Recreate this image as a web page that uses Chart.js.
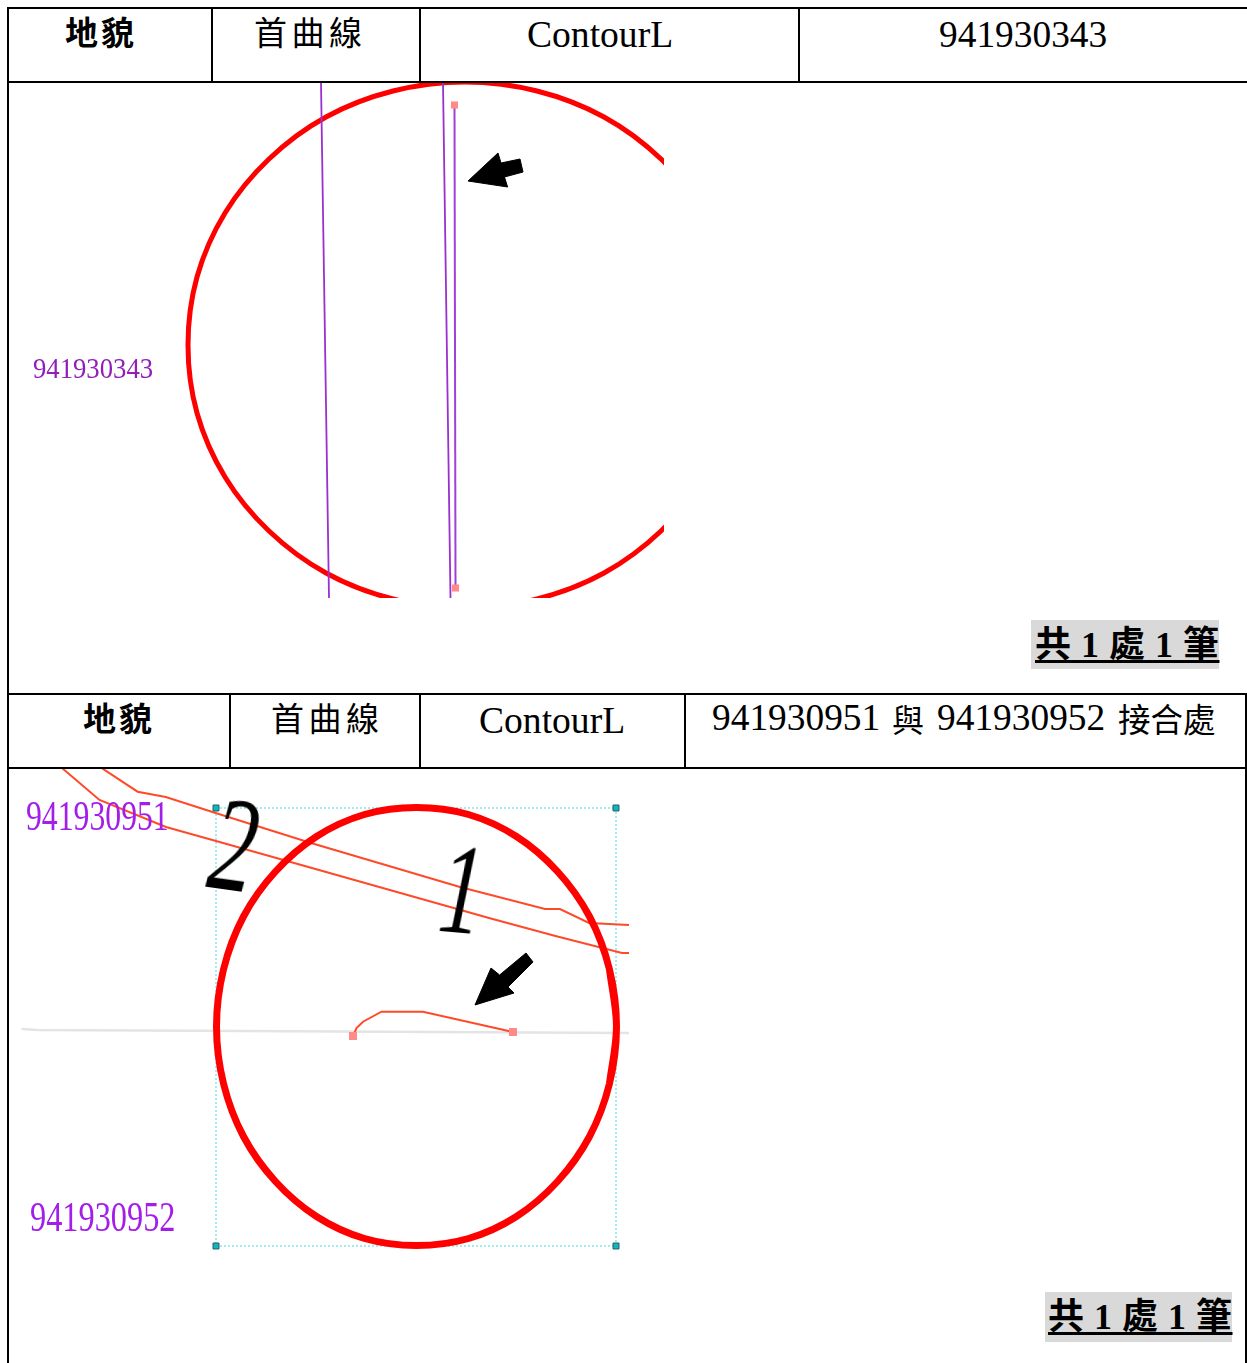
<!DOCTYPE html>
<html lang="zh-Hant">
<head>
<meta charset="utf-8">
<script src="https://cdn.jsdelivr.net/npm/chart.js@4"></script>
<style>
html,body{margin:0;padding:0;background:#fff;width:1247px;height:1363px;overflow:hidden}
.b{position:absolute;background:#000}
.t{position:absolute;white-space:pre;line-height:1;color:#000;transform-origin:0 0}
.s{font-family:"Liberation Serif",serif;font-size:37.6px}
.c{font-family:"Noto Sans CJK TC",sans-serif;font-size:33px}
.cb{font-family:"Noto Sans CJK TC",sans-serif;font-size:33px;font-weight:700}
.tag{position:absolute;background:#d9d9d9}
.tally{font-family:"Liberation Serif","Noto Sans CJK TC",serif;font-size:36px;font-weight:700;letter-spacing:.5px;text-decoration:underline;text-decoration-thickness:3px;text-underline-offset:3px}
canvas{position:absolute}
</style>
</head>
<body>
<!-- table rules -->
<div class="b" style="left:7px;top:7px;width:1240px;height:2px"></div>
<div class="b" style="left:7px;top:81px;width:1240px;height:2px"></div>
<div class="b" style="left:7px;top:693px;width:1240px;height:2px"></div>
<div class="b" style="left:8px;top:767px;width:1239px;height:2px"></div>
<div class="b" style="left:7px;top:7px;width:2px;height:1356px"></div>
<div class="b" style="left:211px;top:7px;width:2px;height:76px"></div>
<div class="b" style="left:419px;top:7px;width:2px;height:76px"></div>
<div class="b" style="left:798px;top:7px;width:2px;height:76px"></div>
<div class="b" style="left:229px;top:693px;width:2px;height:76px"></div>
<div class="b" style="left:419px;top:693px;width:2px;height:76px"></div>
<div class="b" style="left:684px;top:693px;width:2px;height:76px"></div>
<div class="b" style="left:1245px;top:693px;width:2px;height:670px"></div>

<canvas id="c1" width="655" height="515" style="left:9px;top:83px"></canvas>
<canvas id="c2" width="619" height="594" style="left:10px;top:769px"></canvas>

<!-- header text -->
<div class="t cb" style="left:65px;top:15px;letter-spacing:3px">地貌</div>
<div class="t c" style="left:254px;top:15px;letter-spacing:4.5px">首曲線</div>
<div class="t s" style="left:527px;top:16px">ContourL</div>
<div class="t s" style="left:939px;top:16px;font-size:37.4px">941930343</div>

<div class="t cb" style="left:83px;top:701px;letter-spacing:3px">地貌</div>
<div class="t c" style="left:271px;top:701px;letter-spacing:4.5px">首曲線</div>
<div class="t s" style="left:479px;top:702px">ContourL</div>
<div class="t s" style="left:712px;top:699px;font-size:37.4px">941930951</div>
<div class="t c" style="left:892px;top:702px;font-size:32px">與</div>
<div class="t s" style="left:937px;top:699px;font-size:37.4px">941930952</div>
<div class="t c" style="left:1118px;top:702px;font-size:32.5px">接合處</div>

<!-- map labels -->
<div class="t s" style="left:33px;top:354px;font-size:29px;color:#8f1fb8;transform:scaleX(.92)">941930343</div>
<div class="t s" style="left:26px;top:795px;font-size:42px;color:#a31ee8;transform:scaleX(.755)">941930951</div>
<div class="t s" style="left:30px;top:1196px;font-size:42px;color:#a31ee8;transform:scaleX(.77)">941930952</div>
<div class="t s" style="left:206px;top:776px;font-size:135px;font-style:italic;transform-origin:20px 60px;transform:rotate(8deg) scaleX(.68)">2</div>
<div class="t s" style="left:434px;top:823px;font-size:130px;font-style:italic;transform-origin:20px 60px;transform:rotate(5deg) scaleX(.66)">1</div>

<!-- tallies -->
<div class="tag" style="left:1031px;top:620px;width:188px;height:49px"></div>
<div class="t tally" style="left:1035px;top:627px">共 1 處 1 筆</div>
<div class="tag" style="left:1045px;top:1292px;width:187px;height:50px"></div>
<div class="t tally" style="left:1048px;top:1299px">共 1 處 1 筆</div>

<script>
// Panel 1: traced marks
const circleOneX = [733,742,733,705,661,604,537,465,393,326,269,225,197,188,197,225,269,326,393,465,537,604,661,705,733,742,733];
const circleOneY = [277,345,413,477,531,573,599,608,599,573,531,477,413,345,277,213,159,117,91,82,91,117,159,213,277,345,413];
const contourAX = [321,329];
const contourAY = [83,598];
const contourBX = [443,450.5];
const contourBY = [83,598];
const contourCX = [454.5,455.5];
const contourCY = [105,588];
const arrowOneX = [468,498,501,520,523,504.5,507.6,468];
const arrowOneY = [181,153,163,159,172,177,187,181];

// Panel 2: traced marks
const circleTwoX = [609.5,616.5,609.5,589.5,557.5,516.5,468.5,416.5,364.5,316.5,275.5,243.5,223.5,216.5,223.5,243.5,275.5,316.5,364.5,416.5,468.5,516.5,557.5,589.5,609.5,616.5,609.5];
const circleTwoY = [969.5,1026.5,1083.5,1136.5,1181.5,1216.5,1238.5,1245.5,1238.5,1216.5,1181.5,1136.5,1083.5,1026.5,969.5,916.5,871.5,836.5,814.5,807.5,814.5,836.5,871.5,916.5,969.5,1026.5,1083.5];
const upperX = [101.6,137.6,165.8,215.6,311,460,545,560,589,629];
const upperY = [768,791.7,797,813,843,887,909,909,923,925];
const lowerX = [62,99.5,166,216,319,489,555.5,622,629];
const lowerY = [768,800,827,841,870,918,936,953,953];
const greyX = [21.5,37,193,629];
const greyY = [1029,1030,1030.7,1033];
const joinX = [353,356.5,363,381.5,423,513];
const joinY = [1036,1028,1021.7,1011.7,1011.7,1032];
const boxX = [216,616,616,216,216];
const boxY = [808,808,1246,1246,808];
const arrowTwoX = [475,491,499.6,526,533,508,514,475];
const arrowTwoY = [1005,968,975,953,962,987,993,1005];

const zip = (xs, ys) => xs.map((x, i) => ({x, y: ys[i]}));
const line = (xs, ys, color, width, extra) => Object.assign({
  data: zip(xs, ys), showLine: true, borderColor: color, borderWidth: width,
  pointRadius: 0, fill: false, tension: 0, clip: 0
}, extra || {});
const ends = (xs, ys, radius) => ({
  data: zip([xs[0], xs[xs.length-1]], [ys[0], ys[ys.length-1]]), showLine: false,
  pointStyle: 'rect', pointRadius: radius, pointBackgroundColor: '#ff8a8a', pointBorderColor: '#ff8a8a', pointBorderWidth: 0
});
const shape = (xs, ys) => line(xs, ys, '#000', 1, {fill: 'shape', backgroundColor: '#000'});

function draw(id, datasets, xMin, xMax, yMin, yMax) {
  return new Chart(document.getElementById(id), {
    type: 'scatter',
    data: {datasets},
    options: {
      responsive: false, animation: false, events: [],
      layout: {padding: 0, autoPadding: false},
      plugins: {legend: {display: false}, tooltip: {enabled: false}, title: {display: false}},
      scales: {
        x: {type: 'linear', display: false, min: xMin, max: xMax},
        y: {type: 'linear', display: false, min: yMin, max: yMax, reverse: true}
      }
    }
  });
}

// Chart.js paints the first dataset last, so the topmost marks come first.
draw('c1', [
  ends(contourCX, contourCY, 5),
  line(contourAX, contourAY, '#9b30d0', 1.8),
  line(contourBX, contourBY, '#9b30d0', 1.8),
  line(contourCX, contourCY, '#a040d8', 2),
  line(circleOneX, circleOneY, '#ff0000', 5, {tension: 0.33}),
  shape(arrowOneX, arrowOneY)
], 9, 664, 83, 598);

draw('c2', [
  shape(arrowTwoX, arrowTwoY),
  {data: zip(boxX.slice(0,4), boxY.slice(0,4)), showLine: false, pointStyle: 'rect', pointRadius: 4.2,
   pointBackgroundColor: '#12b5bd', pointBorderColor: '#1f5f63', pointBorderWidth: 1},
  line(circleTwoX, circleTwoY, '#ff0000', 7, {tension: 0.33}),
  ends(joinX, joinY, 5.7),
  line(joinX, joinY, '#ff4a2a', 2),
  line(upperX, upperY, '#ff4a2a', 2),
  line(lowerX, lowerY, '#ff4a2a', 2),
  line(boxX, boxY, '#86e4ea', 1.5, {borderDash: [2, 2]}),
  line(greyX, greyY, '#e4e4e4', 2.5)
], 10, 629, 769, 1363);
</script>
</body>
</html>
